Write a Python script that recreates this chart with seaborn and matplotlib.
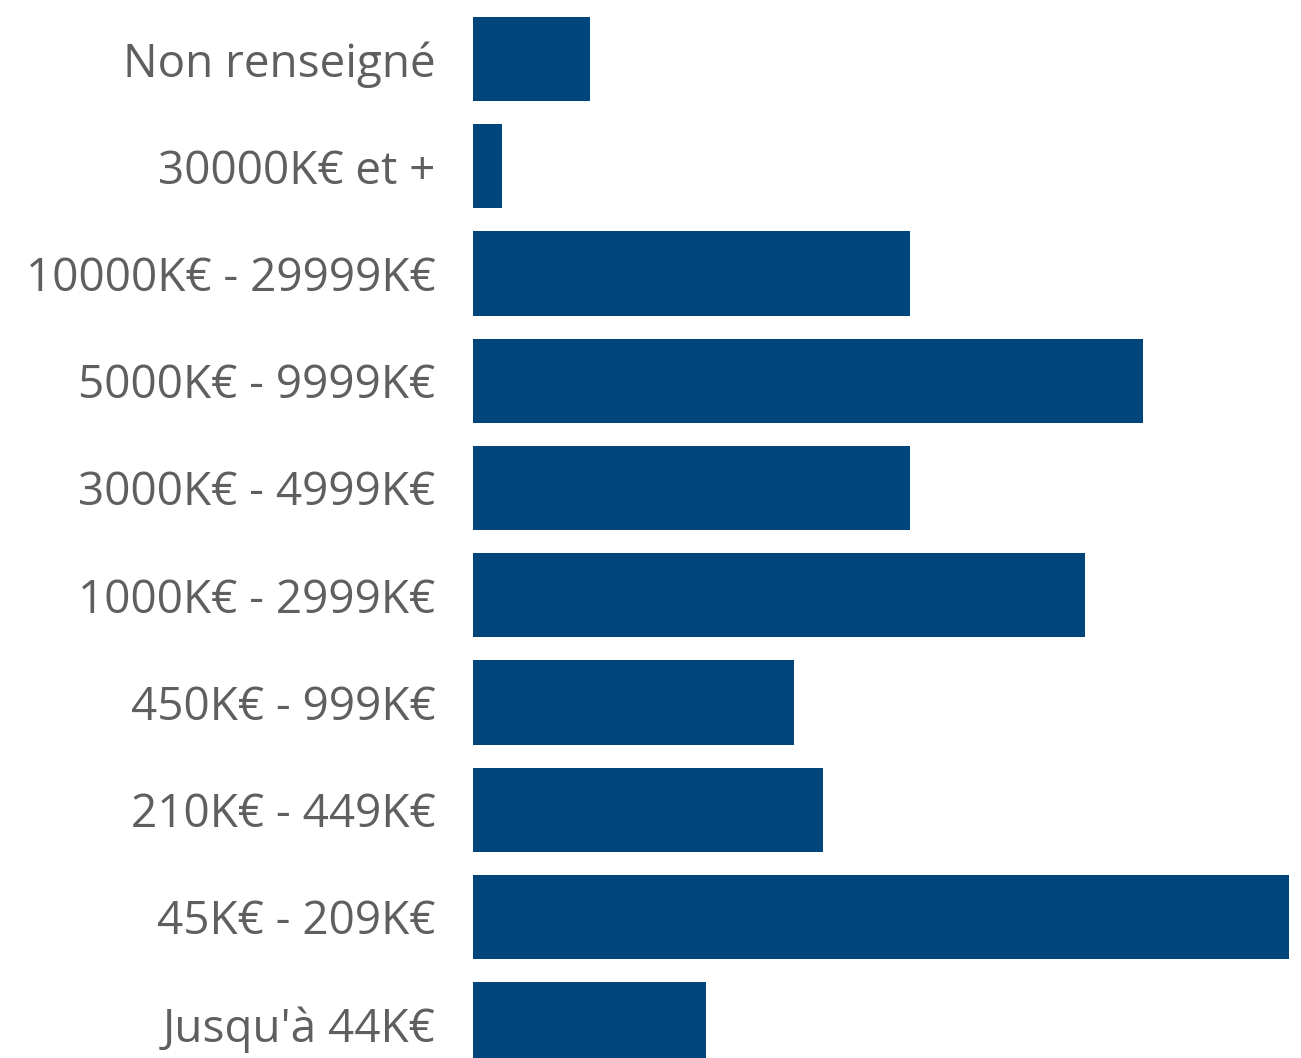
import pandas as pd
import seaborn as sns
from matplotlib import pyplot as plt

categories = ['Non renseigné', '30000K€ et +', '10000K€ - 29999K€', '5000K€ - 9999K€',
              '3000K€ - 4999K€', '1000K€ - 2999K€', '450K€ - 999K€', '210K€ - 449K€',
              '45K€ - 209K€', "Jusqu'à 44K€"]
values = [4, 1, 15, 23, 15, 21, 11, 12, 28, 8]

df = pd.DataFrame({'cat': categories, 'val': values})

sns.set_style('white')
plt.rcParams['font.family'] = ['Open Sans', 'DejaVu Sans']

fig = plt.figure(figsize=(13.01, 10.58), dpi=100)
ax = fig.add_axes([473/1301, 0, 816/1301, 1])
sns.barplot(data=df, x='val', y='cat', color='#00457c', saturation=1, width=0.785,
            linewidth=0, ax=ax)

ax.set_xlim(0, 28)
ax.set_ylim(9.315, -0.550)
ax.set_xlabel('')
ax.set_ylabel('')
ax.set_xticks([])
ax.tick_params(axis='y', length=0, pad=27, labelsize=33, labelcolor='#5f5f5f')
sns.despine(ax=ax, left=True, bottom=True)

fig.savefig('out.png', dpi=100)
